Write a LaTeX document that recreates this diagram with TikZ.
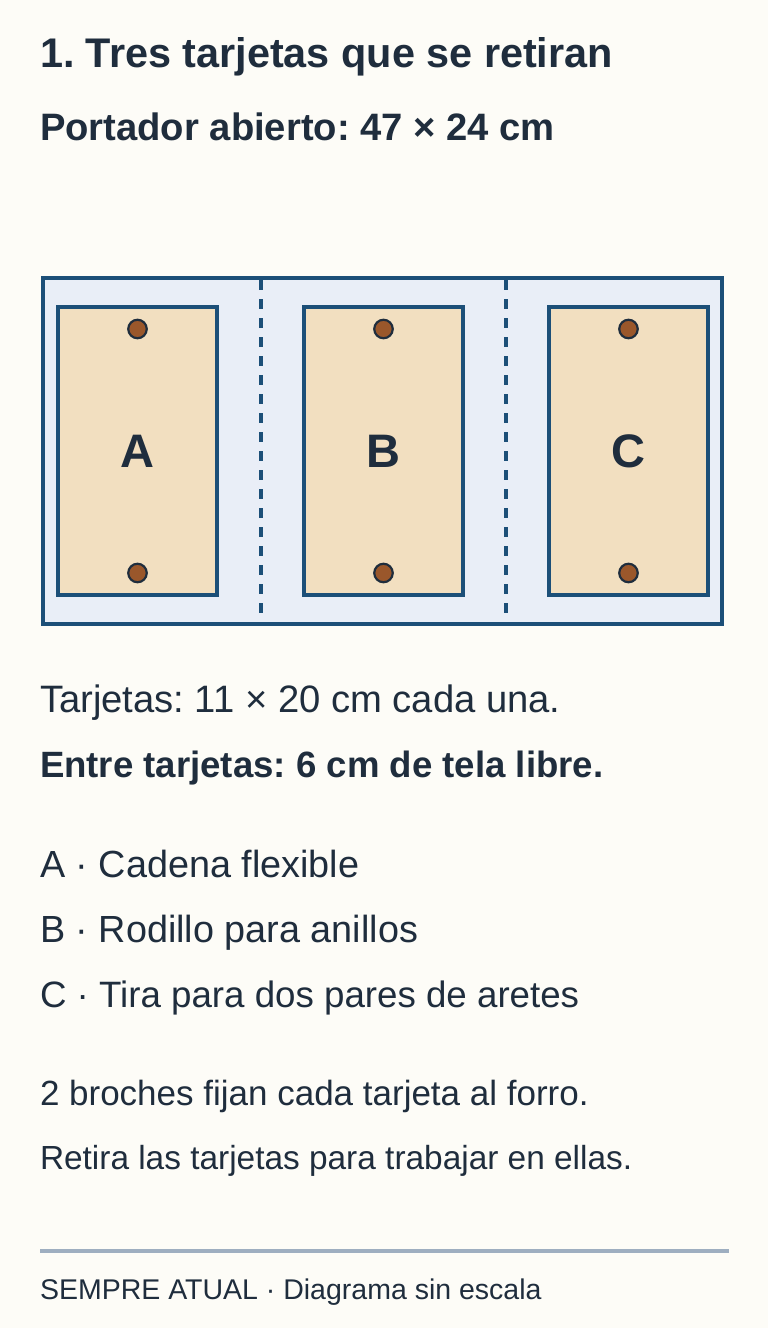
\documentclass[tikz,border=0pt]{standalone}
\usepackage{fontspec}
\setmainfont{Liberation Sans}
\definecolor{bg}{HTML}{FDFCF7}
\definecolor{ink}{HTML}{1F2D3D}
\definecolor{navy}{HTML}{1C4F78}
\definecolor{cloth}{HTML}{E9EEF7}
\definecolor{wheat}{HTML}{F2DFC0}
\definecolor{pin}{HTML}{9A572B}
\definecolor{rule}{HTML}{9EAEC0}
\tikzset{
  txt/.style={anchor=base west, inner sep=0pt, outer sep=0pt, text=ink},
  carrier/.style={draw=navy, fill=cloth, line width=3.6pt, minimum width=679pt, minimum height=346pt, inner sep=0pt},
  card/.style={draw=navy, fill=wheat, line width=3.4pt, minimum width=159pt, minimum height=288pt, inner sep=0pt, text=ink, font=\fontsize{47}{47}\selectfont\bfseries},
  pinpt/.style={circle, draw=ink, fill=pin, line width=2.2pt, minimum size=18.5pt, inner sep=0pt},
  fold/.style={draw=navy, line width=3.6pt, dash pattern=on 9.5pt off 9.5pt},
}
\begin{document}
\frenchspacing
\begin{tikzpicture}[x=1pt,y=-1pt]
\fill[bg] (0,0) rectangle (768,1328);
\useasboundingbox (0,0) rectangle (768,1328);

\node[txt, font=\fontsize{41.4}{42}\selectfont\bfseries] (title) at (40,67.5) {1. Tres tarjetas que se retiran};
\node[txt, font=\fontsize{38.2}{39}\selectfont\bfseries] (sub) at (40,140) {Portador abierto: 47 × 24 cm};

\node[carrier] (carrier) at (382.5,451) {};
\coordinate (f1t) at (261,280);
\coordinate (f1b) at (261,616);
\coordinate (f2t) at (506,280);
\coordinate (f2b) at (506,616);
\draw[fold] (f1t) -- (f1b);
\draw[fold] (f2t) -- (f2b);

\node[card] (cardA) at (137.5,451) {A};
\node[card] (cardB) at (383.5,451) {B};
\node[card] (cardC) at (628.5,451) {C};

\node[pinpt] (pA1) at (137.5,329) {};
\node[pinpt] (pA2) at (137.5,573) {};
\node[pinpt] (pB1) at (383.5,329) {};
\node[pinpt] (pB2) at (383.5,573) {};
\node[pinpt] (pC1) at (628.5,329) {};
\node[pinpt] (pC2) at (628.5,573) {};

\node[txt, font=\fontsize{38.2}{38}\selectfont] (t1) at (40,712) {Tarjetas: 11 × 20 cm cada una.};
\node[txt, font=\fontsize{36.6}{37}\selectfont\bfseries] (t2) at (40,777.5) {Entre tarjetas: 6 cm de tela libre.};

\node[txt, font=\fontsize{37.8}{38}\selectfont] (la) at (40,877) {A · Cadena flexible};
\node[txt, font=\fontsize{37.8}{38}\selectfont] (lb) at (40,942) {B · Rodillo para anillos};
\node[txt, font=\fontsize{36.7}{38}\selectfont] (lc) at (40,1007) {C · Tira para dos pares de aretes};

\node[txt, font=\fontsize{35}{35}\selectfont] (n1) at (40,1105) {2 broches fijan cada tarjeta al forro.};
\node[txt, font=\fontsize{33.4}{34}\selectfont] (n2) at (40,1169) {Retira las tarjetas para trabajar en ellas.};

\coordinate (r1) at (40,1251);
\coordinate (r2) at (729,1251);
\draw[rule, line width=3.2pt] (r1) -- (r2);
\node[txt, font=\fontsize{28.5}{29}\selectfont] (foot) at (40,1299) {SEMPRE ATUAL · Diagrama sin escala};
\end{tikzpicture}
\end{document}
